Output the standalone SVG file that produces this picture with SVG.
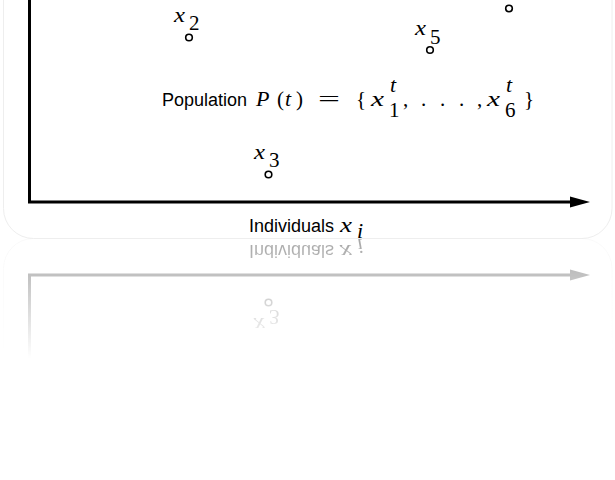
<svg xmlns="http://www.w3.org/2000/svg" xmlns:xlink="http://www.w3.org/1999/xlink" width="615" height="480" viewBox="0 0 615 480">
<style>
.sans{font-family:"Liberation Sans",Arial,sans-serif;font-size:18px;fill:#000}
.mi{font-family:"Liberation Serif","Times New Roman",serif;font-style:italic;font-size:22px;fill:#000}
.mr{font-family:"Liberation Serif","Times New Roman",serif;font-size:21px;fill:#000}
.mx{font-family:"Liberation Serif","Times New Roman",serif;font-style:italic;font-size:20px;fill:#000}
.pt{fill:#fff;stroke:#000;stroke-width:1.6}
.axis{stroke:#000;stroke-width:3;fill:none}
.frame{fill:none;stroke:#eeeeee;stroke-width:1}
</style>
<defs>
<linearGradient id="fadeGrad" gradientUnits="userSpaceOnUse" x1="0" y1="238.5" x2="0" y2="358.5">
<stop offset="0" stop-color="#fff" stop-opacity="0.35"/>
<stop offset="1" stop-color="#fff" stop-opacity="0"/>
</linearGradient>
<mask id="fade" maskUnits="userSpaceOnUse" x="0" y="238" width="615" height="242">
<rect x="0" y="238" width="615" height="242" fill="url(#fadeGrad)"/>
</mask>
</defs>
<rect width="615" height="480" fill="#fff"/>
<g id="content">
<rect class="frame" x="3.5" y="-100" width="608.5" height="338.5" rx="30"/>
<g id="connectors">
<path class="axis" d="M29.5 0 V202 H575"/>
<polygon points="570,196.5 590,202 570,207.5" fill="#000"/>
</g>
<g id="x2">
<text class="mx" x="174" y="22" textLength="11" lengthAdjust="spacingAndGlyphs">x</text>
<text class="mr" x="189" y="30">2</text>
<circle class="pt" cx="189" cy="37.5" r="3.3"/>
</g>
<g id="x5">
<text class="mx" x="415" y="35" textLength="11" lengthAdjust="spacingAndGlyphs">x</text>
<text class="mr" x="430" y="44">5</text>
<circle class="pt" cx="430" cy="50" r="3.3"/>
</g>
<g id="x3">
<text class="mx" x="254" y="159" textLength="11" lengthAdjust="spacingAndGlyphs">x</text>
<text class="mr" x="269" y="167">3</text>
<circle class="pt" cx="268.5" cy="174.5" r="3.3"/>
</g>
<g id="xtop">
<circle class="pt" cx="509" cy="8.5" r="3.3"/>
</g>
<g id="population">
<text class="sans" x="162" y="106">Population</text>
<text class="mi" x="256" y="106">P</text>
<text class="mr" x="277" y="106">(</text>
<text class="mi" x="285" y="106">t</text>
<text class="mr" x="296" y="106">)</text>
<text class="mr" x="318" y="106" textLength="22" lengthAdjust="spacingAndGlyphs">=</text>
<text class="mr" x="356" y="106">{</text>
<text class="mx" x="371" y="106" textLength="13" lengthAdjust="spacingAndGlyphs">x</text>
<text class="mi" x="390" y="92" font-size="20">t</text>
<text class="mr" x="389" y="117" font-size="20">1</text>
<text class="mr" x="403" y="106">,</text>
<text class="mr" x="421" y="106">.</text>
<text class="mr" x="440" y="106">.</text>
<text class="mr" x="459" y="106">.</text>
<text class="mr" x="477" y="106">,</text>
<text class="mx" x="487" y="106" textLength="13" lengthAdjust="spacingAndGlyphs">x</text>
<text class="mi" x="506" y="92" font-size="20">t</text>
<text class="mr" x="505" y="117" font-size="20">6</text>
<text class="mr" x="524" y="106">}</text>
</g>
<g id="axis-label">
<text class="sans" x="249" y="232">Individuals</text>
<text class="mx" x="340" y="232" textLength="12" lengthAdjust="spacingAndGlyphs">x</text>
<text class="mi" x="357" y="238" font-size="17">i</text>
</g>
</g>
<g id="reflection" mask="url(#fade)">
<use xlink:href="#content" transform="matrix(1 0 0 -1 0 477)"/>
</g>
</svg>
